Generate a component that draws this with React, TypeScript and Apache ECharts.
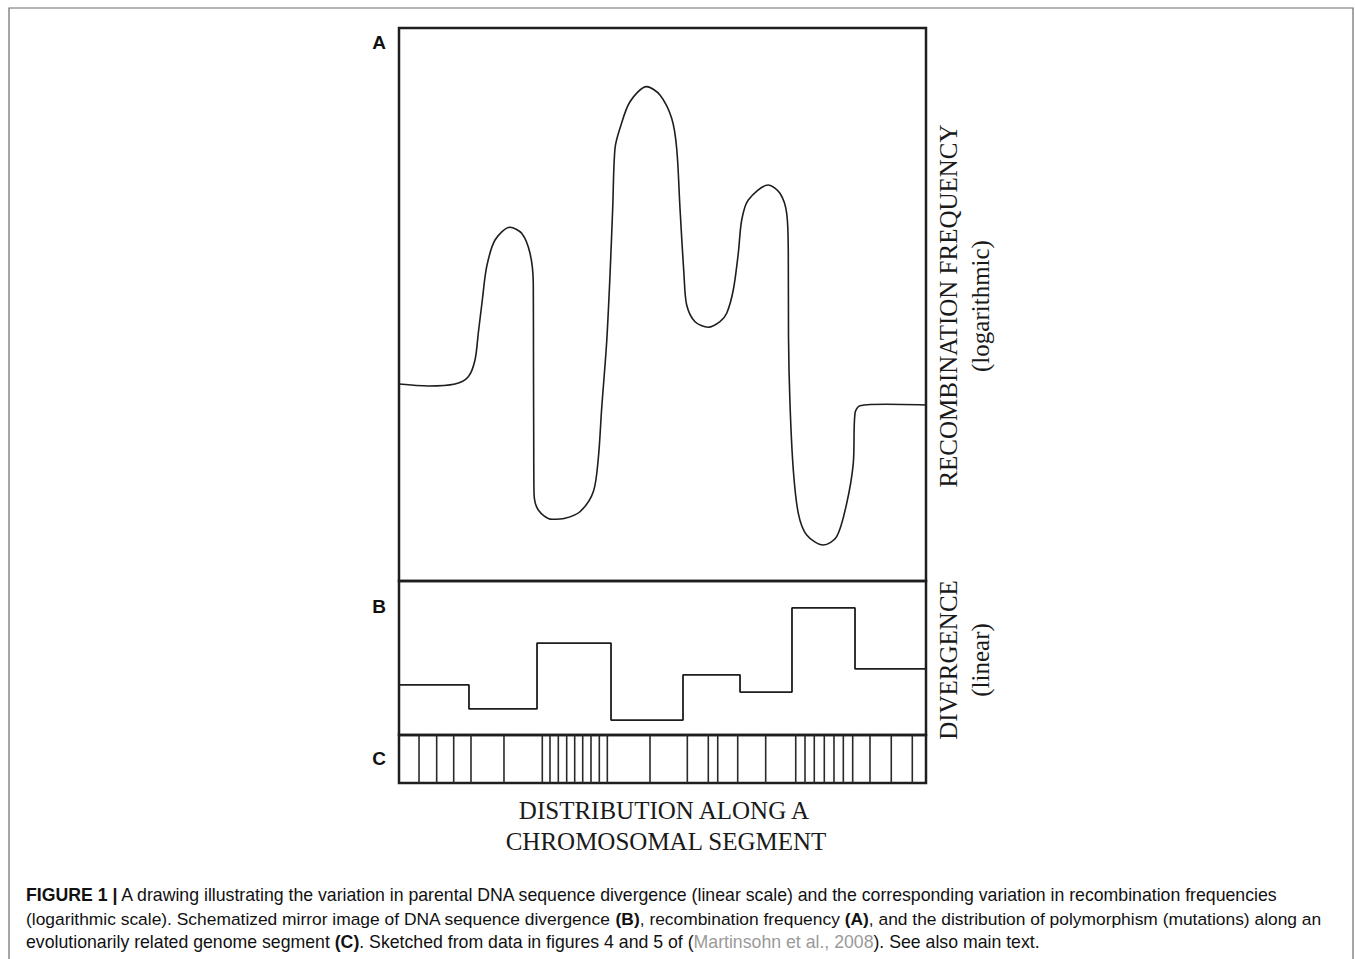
import React, { useEffect, useRef } from "react";
import * as echarts from "echarts";

// Panel A: recombination frequency (log scale), position along segment (0-100) vs relative level
const curveX = [0, 5.56, 10.63, 13.15, 14.42, 15.05, 15.81, 16.64, 18.22, 21.06, 23.28, 24.86, 25.48, 25.52, 25.56, 25.62, 26.43, 28.98, 31.5, 34.34, 36.87, 37.82, 38.46, 39.41, 40.04, 40.55, 40.99, 41.93, 43.83, 47.0, 49.52, 51.74, 52.69, 53.32, 54.08, 54.59, 56.17, 58.69, 60.91, 62.18, 63.43, 64.38, 65.03, 66.28, 70.08, 72.29, 73.57, 73.87, 73.91, 74.19, 74.82, 75.77, 77.36, 80.51, 83.05, 84.95, 86.2, 86.53, 87.48, 92.54, 100];
const curveY = [35.62, 35.26, 35.62, 36.94, 39.96, 44.85, 50.81, 56.84, 61.66, 63.96, 62.87, 59.26, 53.83, 38.75, 26.71, 15.86, 12.84, 11.16, 11.34, 12.53, 16.15, 22.19, 31.23, 43.27, 55.33, 67.4, 78.25, 81.86, 86.67, 89.39, 87.88, 83.67, 78.25, 67.4, 55.33, 49.91, 46.89, 45.88, 46.89, 48.41, 52.62, 59.26, 65.28, 68.9, 71.61, 70.11, 66.49, 59.26, 44.18, 32.13, 20.07, 12.24, 8.32, 6.51, 8.01, 14.05, 21.28, 30.33, 31.7, 31.95, 31.83];

// Panel B: divergence (linear), step segments: start position and level
const stepX = [0, 13.28, 26.19, 40.23, 53.89, 64.71, 74.57, 86.53, 100];
const stepY = [32.5, 16.9, 59.7, 9.7, 39.0, 27.9, 82.5, 42.9, 42.9];

// Panel C: polymorphism positions
const polyX = [3.8, 7.15, 10.38, 13.66, 19.92, 27.19, 28.65, 30.23, 31.82, 33.34, 34.86, 36.43, 38.01, 39.53, 47.63, 54.71, 58.69, 60.48, 64.27, 69.58, 75.28, 77.04, 78.8, 80.7, 82.54, 84.31, 86.09, 89.37, 93.41, 97.4];

const panelLabels = ["A", "B", "C"];

export default function App() {
  const ref = useRef<HTMLDivElement>(null);
  useEffect(() => {
    if (!ref.current) return;
    const chart = echarts.init(ref.current, null, { renderer: "svg" });
    const ink = "#1e1e1e";
    const serif = "'Liberation Serif', 'DejaVu Serif', serif";
    const sans = "'Liberation Sans', Arial, sans-serif";
    const capFont = "'Liberation Sans Narrow', 'Liberation Sans', Arial, sans-serif";
    const gridBase = { left: 399, width: 527, show: true, borderColor: ink, borderWidth: 2.5, backgroundColor: "transparent" };
    const capStyle = (text: string, y: number, size: number) => ({
      type: "text",
      x: 26,
      y,
      style: {
        text,
        fontFamily: capFont,
        fontSize: size,
        fill: "#111",
        verticalAlign: "middle",
        rich: {
          b: { fontFamily: capFont, fontSize: size, fontWeight: "bold", fill: "#111" },
          g: { fontFamily: capFont, fontSize: size, fill: "#9a9a9a" },
        },
      },
    });
    chart.setOption({
      animation: false,
      backgroundColor: "#ffffff",
      grid: [
        { ...gridBase, top: 28, height: 553 },
        { ...gridBase, top: 581, height: 154 },
        { ...gridBase, top: 735, height: 48 },
      ],
      xAxis: [0, 1, 2].map((i) => ({ type: "value", gridIndex: i, min: 0, max: 100, show: false })),
      yAxis: [
        { type: "value", gridIndex: 0, min: 0, max: 100, show: false },
        { type: "value", gridIndex: 1, min: 0, max: 100, show: false },
        { type: "value", gridIndex: 2, min: 0, max: 1, show: false },
      ],
      series: [
        {
          type: "line",
          xAxisIndex: 0,
          yAxisIndex: 0,
          data: curveX.map((x, i) => [x, curveY[i]]),
          smooth: 0.3,
          symbol: "none",
          lineStyle: { color: ink, width: 1.6 },
        },
        {
          type: "line",
          xAxisIndex: 1,
          yAxisIndex: 1,
          data: stepX.map((x, i) => [x, stepY[i]]),
          step: "end",
          symbol: "none",
          lineStyle: { color: ink, width: 1.8 },
        },
        {
          type: "bar",
          xAxisIndex: 2,
          yAxisIndex: 2,
          data: polyX.map((x) => [x, 1]),
          barWidth: 1.6,
          itemStyle: { color: "#2a2a2a" },
        },
      ],
      graphic: [
        {
          type: "rect",
          shape: { x: 9, y: 8, width: 1344, height: 970 },
          style: { fill: "none", stroke: "#6a6a6a", lineWidth: 1.2 },
          silent: true,
        },
        ...panelLabels.map((t, i) => ({
          type: "text",
          x: 379,
          y: [42, 606, 758][i],
          style: { text: t, fontFamily: sans, fontWeight: "bold", fontSize: 19, fill: "#111", align: "center", verticalAlign: "middle" },
        })),
        {
          type: "text",
          x: 948,
          y: 306,
          rotation: Math.PI / 2,
          style: { text: "RECOMBINATION FREQUENCY", fontFamily: serif, fontSize: 25, fill: "#1a1a1a", align: "center", verticalAlign: "middle" },
        },
        {
          type: "text",
          x: 980,
          y: 306,
          rotation: Math.PI / 2,
          style: { text: "(logarithmic)", fontFamily: serif, fontSize: 25, fill: "#1a1a1a", align: "center", verticalAlign: "middle" },
        },
        {
          type: "text",
          x: 948,
          y: 660,
          rotation: Math.PI / 2,
          style: { text: "DIVERGENCE", fontFamily: serif, fontSize: 25, fill: "#1a1a1a", align: "center", verticalAlign: "middle" },
        },
        {
          type: "text",
          x: 980,
          y: 660,
          rotation: Math.PI / 2,
          style: { text: "(linear)", fontFamily: serif, fontSize: 25, fill: "#1a1a1a", align: "center", verticalAlign: "middle" },
        },
        {
          type: "text",
          x: 664,
          y: 810,
          style: { text: "DISTRIBUTION ALONG A", fontFamily: serif, fontSize: 25, fill: "#1a1a1a", align: "center", verticalAlign: "middle" },
        },
        {
          type: "text",
          x: 666,
          y: 841,
          style: { text: "CHROMOSOMAL SEGMENT", fontFamily: serif, fontSize: 25, fill: "#1a1a1a", align: "center", verticalAlign: "middle" },
        },
        capStyle("{b|FIGURE 1 |} A drawing illustrating the variation in parental DNA sequence divergence (linear scale) and the corresponding variation in recombination frequencies", 895, 17.7),
        capStyle("(logarithmic scale). Schematized mirror image of DNA sequence divergence {b|(B)}, recombination frequency {b|(A)}, and the distribution of polymorphism (mutations) along an", 919, 17.4),
        capStyle("evolutionarily related genome segment {b|(C)}. Sketched from data in figures 4 and 5 of ({g|Martinsohn et al., 2008}). See also main text.", 942, 17.7),
      ],
    });
    return () => chart.dispose();
  }, []);
  return <div ref={ref} style={{ position: "absolute", left: 0, top: 0, width: 1355, height: 959 }} />;
}
